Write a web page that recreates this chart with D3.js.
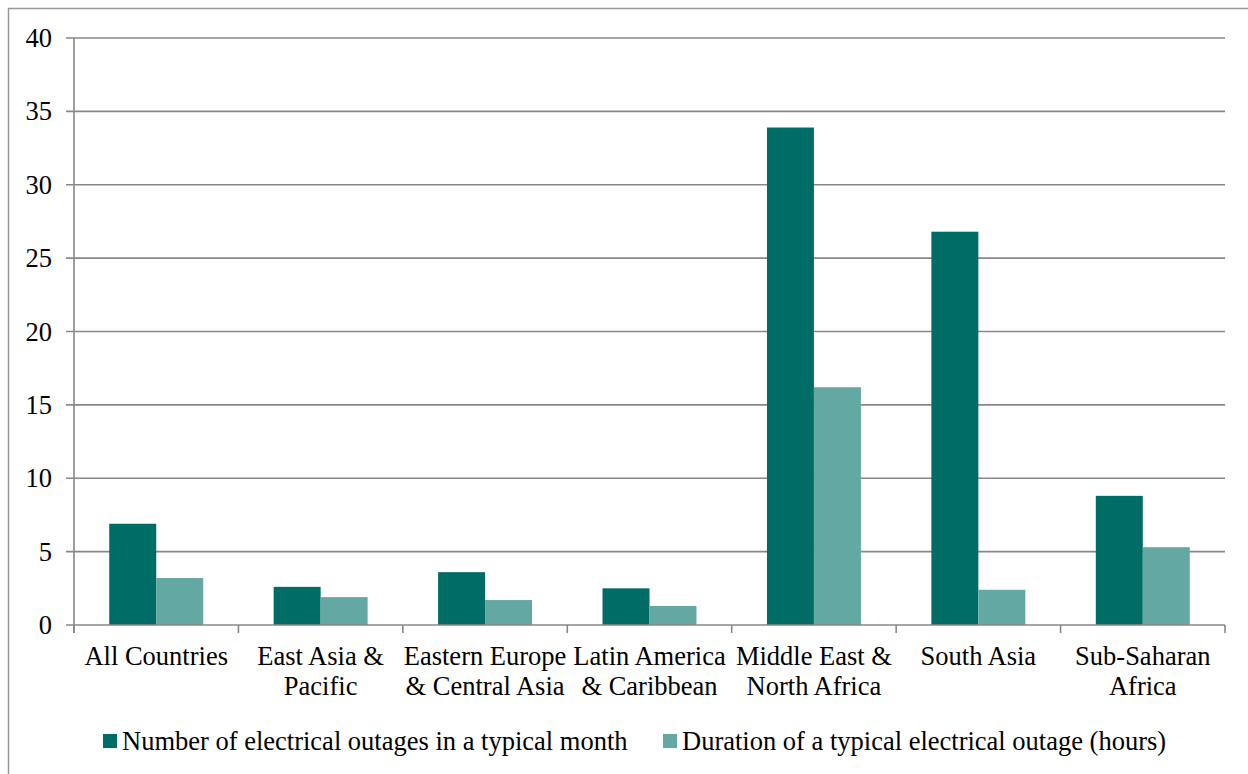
<!doctype html>
<html lang="en">
<head>
<meta charset="utf-8" />
<title>Electrical outages by region</title>
<script src="https://d3js.org/d3.v7.min.js"></script>
<style>
  body { margin: 0; background: #fff; }
  svg text { font-family: "Liberation Serif", "Times New Roman", serif; fill: #000; }
</style>
</head>
<body>
<div id="chart"></div>
<script>
// data
var regions = [
  ["All Countries"],
  ["East Asia &", "Pacific"],
  ["Eastern Europe", "& Central Asia"],
  ["Latin America", "& Caribbean"],
  ["Middle East &", "North Africa"],
  ["South Asia"],
  ["Sub-Saharan", "Africa"]
];
var outagesPerMonth = [6.9, 2.6, 3.6, 2.5, 33.9, 26.8, 8.8];
var outageHours = [3.2, 1.9, 1.7, 1.3, 16.2, 2.4, 5.3];
var seriesNames = ["Number of electrical outages in a typical month",
                   "Duration of a typical electrical outage (hours)"];
var yTicks = [0, 5, 10, 15, 20, 25, 30, 35, 40];

var W = 1248, H = 774;
var colors = ["#006c66", "#64a8a4"];
var grey = "#888";
var fs = 26.5;

var svg = d3.select("#chart").append("svg")
  .attr("width", W).attr("height", H);

// outer frame
svg.append("rect")
  .attr("x", 8.5).attr("y", 8.5)
  .attr("width", W).attr("height", H)
  .attr("fill", "none").attr("stroke", "#999").attr("stroke-width", 1.5);

var plotL = 74, plotR = 1225, plotT = 38, plotB = 625;

var x = d3.scaleBand().domain(d3.range(regions.length)).range([plotL, plotR]);
var y = d3.scaleLinear().domain([0, 40]).range([plotB, plotT]);
var barW = x.bandwidth() / 3.5;
var offset = barW * 0.75;

// gridlines
svg.append("g").selectAll("line").data(yTicks.filter(function(d) { return d > 0; }))
  .join("line")
  .attr("x1", plotL - 8).attr("x2", plotR)
  .attr("y1", function(d) { return y(d); }).attr("y2", function(d) { return y(d); })
  .attr("stroke", grey).attr("stroke-width", 1.6);

// y labels
svg.append("g").selectAll("text").data(yTicks)
  .join("text")
  .attr("x", 52).attr("y", function(d) { return y(d) + 9; })
  .attr("text-anchor", "end")
  .attr("font-size", fs)
  .text(function(d) { return d; });

// bars
var series = [outagesPerMonth, outageHours];
series.forEach(function(vals, s) {
  svg.append("g").selectAll("rect").data(vals)
    .join("rect")
    .attr("x", function(d, i) { return x(i) + offset + s * barW; })
    .attr("y", function(d) { return y(d); })
    .attr("width", barW)
    .attr("height", function(d) { return plotB - y(d); })
    .attr("fill", colors[s]);
});

// axes lines
svg.append("line").attr("x1", plotL).attr("x2", plotL).attr("y1", plotT).attr("y2", plotB + 8)
  .attr("stroke", grey).attr("stroke-width", 1.6);
svg.append("line").attr("x1", plotL - 8).attr("x2", plotR).attr("y1", plotB).attr("y2", plotB)
  .attr("stroke", grey).attr("stroke-width", 1.6);
svg.append("g").selectAll("line").data(d3.range(regions.length + 1))
  .join("line")
  .attr("x1", function(i) { return plotL + i * x.step(); })
  .attr("x2", function(i) { return plotL + i * x.step(); })
  .attr("y1", plotB).attr("y2", plotB + 8)
  .attr("stroke", grey).attr("stroke-width", 1.6);

// category labels
var cats = svg.append("g").selectAll("text").data(regions)
  .join("text")
  .attr("text-anchor", "middle")
  .attr("font-size", fs);
cats.selectAll("tspan").data(function(d, i) { return d.map(function(t) { return { t: t, i: i }; }); })
  .join("tspan")
  .attr("x", function(d) { return x(d.i) + x.bandwidth() / 2; })
  .attr("y", function(d, j) { return 665 + j * 30; })
  .text(function(d) { return d.t; });

// legend
var legX = [103, 663];
seriesNames.forEach(function(name, s) {
  svg.append("rect").attr("x", legX[s]).attr("y", 734).attr("width", 14).attr("height", 14)
    .attr("fill", colors[s]);
  svg.append("text").attr("x", legX[s] + 19).attr("y", 750)
    .attr("font-size", fs).text(name);
});
</script>
</body>
</html>
